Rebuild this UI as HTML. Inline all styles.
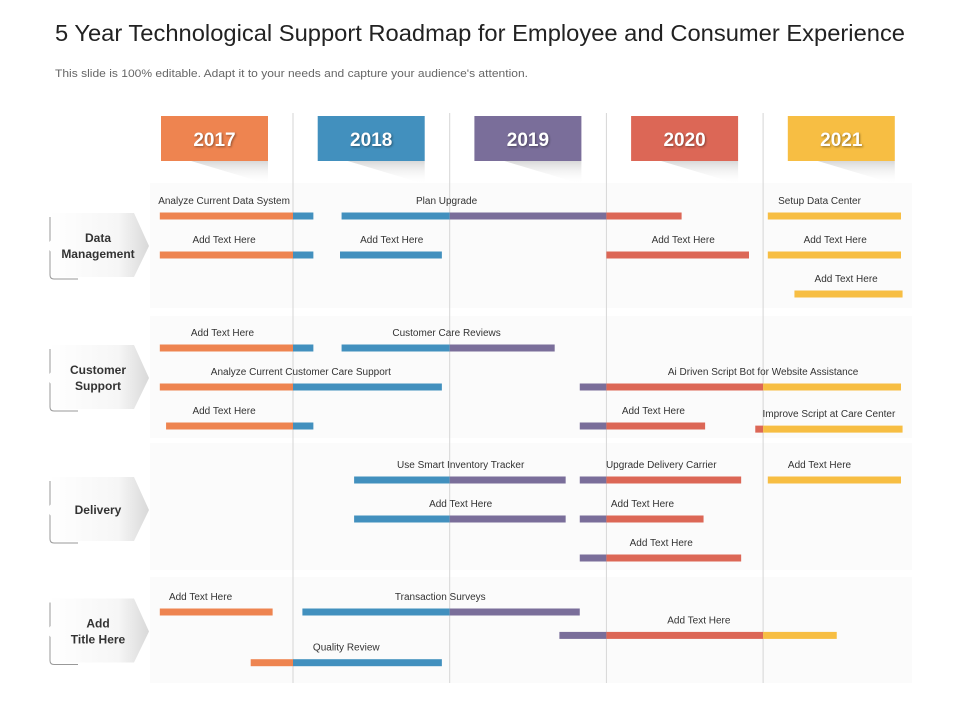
<!DOCTYPE html>
<html><head><meta charset="utf-8"><style>
body{margin:0;background:#fff;}
svg{display:block;font-family:"Liberation Sans",sans-serif;}
</style></head><body>
<svg id="chart" width="960" height="720" viewBox="0 0 960 720" xmlns="http://www.w3.org/2000/svg">
<defs>
<linearGradient id="fold" x1="0" y1="0" x2="0" y2="1"><stop offset="0" stop-color="#d8d8d8"/><stop offset="1" stop-color="#fff" stop-opacity="0"/></linearGradient>
<linearGradient id="chev" x1="0" y1="0" x2="1" y2="0"><stop offset="0" stop-color="#fff"/><stop offset="0.7" stop-color="#f6f6f6"/><stop offset="1" stop-color="#d9d9d9"/></linearGradient>
</defs>
<text x="55" y="41" font-size="23" fill="#222" textLength="850" lengthAdjust="spacingAndGlyphs">5 Year Technological Support Roadmap for Employee and Consumer Experience</text>
<text x="55" y="77" font-size="11" fill="#666" textLength="473" lengthAdjust="spacingAndGlyphs">This slide is 100% editable. Adapt it to your needs and capture your audience's attention.</text>
<g id="layer"></g>
</svg>
<script>
const years = ["2017","2018","2019","2020","2021"];
const yearColors = ["#EE8450","#4290BE","#7A6E9A","#DC6756","#F7BE43"];
const groups = ["Data|Management","Customer|Support","Delivery","Add|Title Here"];
const taskLabels = ["Analyze Current Data System","Plan Upgrade","Setup Data Center","Add Text Here","Add Text Here","Add Text Here","Add Text Here","Add Text Here","Add Text Here","Customer Care Reviews","Analyze Current Customer Care Support","Ai Driven Script Bot for Website Assistance","Add Text Here","Add Text Here","Improve Script at Care Center","Use Smart Inventory Tracker","Upgrade Delivery Carrier","Add Text Here","Add Text Here","Add Text Here","Add Text Here","Add Text Here","Transaction Surveys","Add Text Here","Quality Review"];
const taskStart = [2017.15,2018.31,2021.03,2017.15,2018.30,2020.00,2021.03,2021.20,2017.15,2018.31,2017.15,2019.83,2017.19,2019.83,2020.95,2018.39,2019.83,2021.03,2018.39,2019.83,2019.83,2017.15,2018.06,2019.70,2017.73];
const taskEnd = [2018.13,2020.48,2021.88,2018.13,2018.95,2020.91,2021.88,2021.89,2018.13,2019.67,2018.95,2021.88,2018.13,2020.63,2021.89,2019.74,2020.86,2021.88,2019.74,2020.62,2020.86,2017.87,2019.83,2021.47,2018.95];
const taskLabelAt = [2017.56,2018.98,2021.36,2017.56,2018.63,2020.49,2021.46,2021.53,2017.55,2018.98,2018.05,2021.00,2017.56,2020.30,2021.42,2019.07,2020.35,2021.36,2019.07,2020.23,2020.35,2017.41,2018.94,2020.59,2018.34];
const taskRow = [0,0,0,1,1,1,1,2,3,3,4,4,5,5,5.08,6,6,6,7,7,8,9,9,9.6,10.3];
const groupRow = [0.77,3.77,6.77,9.5];

const NS="http://www.w3.org/2000/svg";
const layer=document.getElementById('layer');
const X=v=>293+(v-2018)*156.7;
const rowY=r=>{const g=[[0,216],[3,348],[6,480],[9,612]];let b=g[0];for(const e of g)if(r>=e[0])b=e;return b[1]+(r-b[0])*39;};
function mk(tag,attrs,parent){const e=document.createElementNS(NS,tag);for(const k in attrs)e.setAttribute(k,attrs[k]);(parent||layer).appendChild(e);return e;}

const panels=[[183,308],[316,438],[443,570],[577,683]];
panels.forEach((p,i)=>{const r=mk('rect',{x:150,y:p[0],width:762,height:p[1]-p[0],fill:'#fbfbfb'});

});
for(let i=1;i<5;i++){const l=mk('line',{x1:X(2017+i),x2:X(2017+i),y1:113,y2:683,stroke:'#d6d6d6','stroke-width':1});

}
years.forEach((y,i)=>{const x0=X(2018+i)-132;
const f=mk('polygon',{points:`${x0+30},161 ${x0+107},161 ${x0+107},184`,fill:'url(#fold)'});


const r=mk('rect',{x:x0,y:116,width:107,height:45,fill:yearColors[i]});


const t=mk('text',{x:x0+53.5,y:146,'text-anchor':'middle','font-size':19,'font-weight':'bold',fill:'#fff',style:'text-shadow:1px 1px 2px rgba(0,0,0,.4)'});
t.textContent=y;

});
groups.forEach((g,i)=>{const cy=rowY(groupRow[i]);const y0=cy-33;
const b=mk('path',{d:`M50,${y0+4} v${58} q0,4 4,4 h24`,fill:'none',stroke:'#999','stroke-width':1});


const p=mk('polygon',{points:`52,${y0} 134,${y0} 149,${cy} 134,${y0+64} 52,${y0+64} 52,${cy+8} 47,${cy} 52,${cy-8}`,fill:'url(#chev)'});


const lines=g.split('|');
lines.forEach((s,j)=>{const t=mk('text',{x:98,y:cy+4+(j-(lines.length-1)/2)*16,'text-anchor':'middle','font-size':12,'font-weight':'bold',fill:'#333'});
t.textContent=s;

});});
taskLabels.forEach((lab,i)=>{const y=rowY(taskRow[i]);const s=taskStart[i],e=taskEnd[i];
for(let k=0;k<5;k++){const a=Math.max(s,2017+k+(k==0?-5:0)),b=Math.min(e,2018+k+(k==4?5:0));
if(b>a){const r=mk('rect',{x:X(a),y:y-3.5,width:X(b)-X(a),height:7,fill:yearColors[k]});

}}
const t=mk('text',{x:X(taskLabelAt[i]),y:y-12,'text-anchor':'middle','font-size':10,fill:'#333'});
t.textContent=lab;

});
</script>
</body></html>
